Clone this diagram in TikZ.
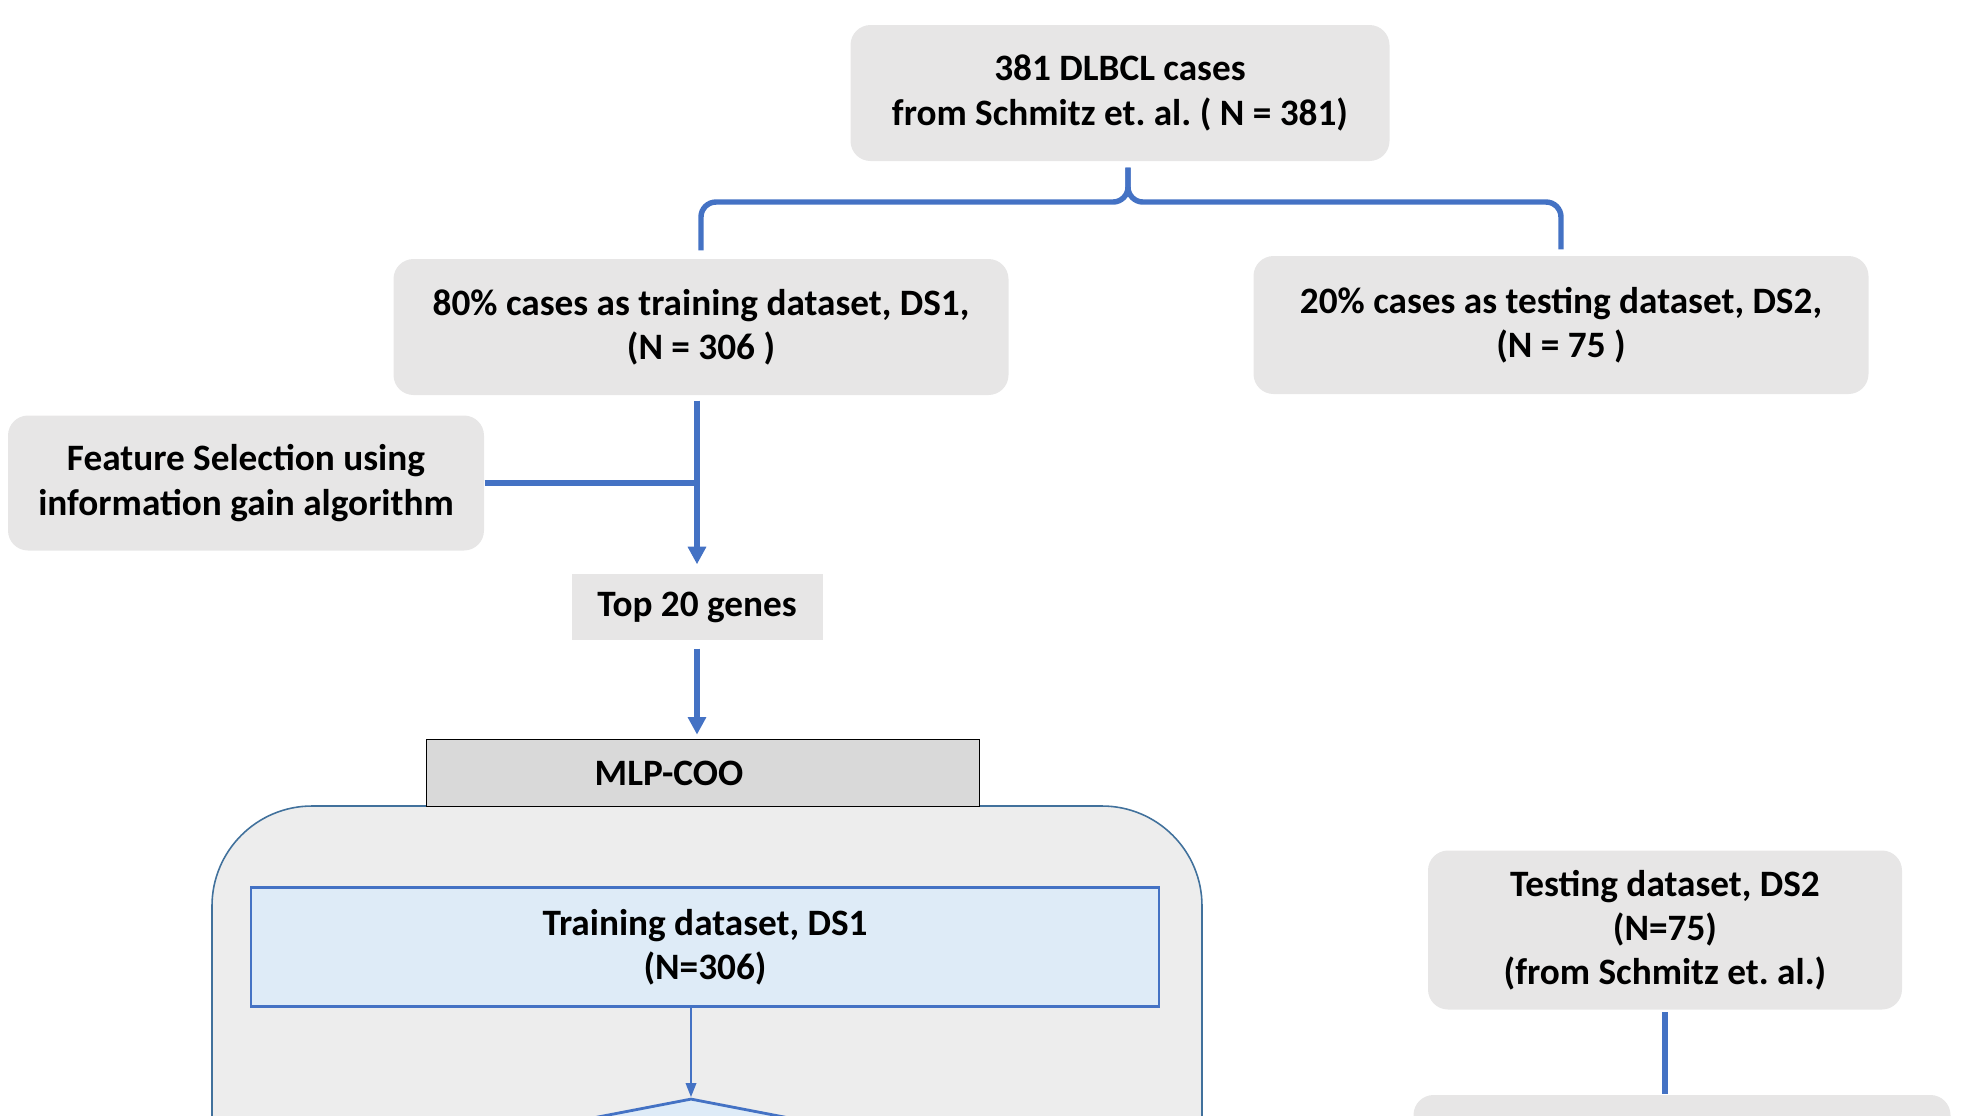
\documentclass[tikz,border=0pt]{standalone}
\usepackage{fontspec}
\setmainfont{Carlito}
\usepackage{xcolor}
\usetikzlibrary{arrows.meta,shapes.geometric}
\definecolor{boxgray}{HTML}{E7E6E6}
\definecolor{linkblue}{HTML}{4472C4}
\definecolor{contfill}{HTML}{EDEDED}
\definecolor{contdraw}{HTML}{41719C}
\definecolor{mlpfill}{HTML}{D9D9D9}
\definecolor{dsfill}{HTML}{DEEBF7}
\frenchspacing

\begin{document}
\begin{tikzpicture}[x=0.1mm,y=-0.1mm,
	txt/.style={inner sep=0pt,align=center,font=\bfseries\fontsize{10.6}{12.6}\selectfont},
	graybox/.style={txt,fill=boxgray,rounded corners=2mm},
	link/.style={draw=linkblue,line width=1.55pt},
	tip/.style={-{Triangle[width=5pt,length=5pt]}}]
	\useasboundingbox (0,0) rectangle (1980,1115);
	\foreach \coordonnees/\nom/\w/\h/\texte in
	{{(1120,93)}/top/53.9mm/13.6mm/{381 DLBCL cases\\from Schmitz et. al. ( N = 381)},
	{(701,327)}/train/61.5mm/13.6mm/{80\% cases as training dataset, DS1,\\(N = 306 )},
	{(1561,325)}/test/61.5mm/13.8mm/{20\% cases as testing dataset, DS2,\\(N = 75 )},
	{(246,483)}/fs/47.6mm/13.5mm/{Feature Selection using\\information gain algorithm},
	{(1665,930)}/dstwo/47.4mm/15.9mm/{Testing dataset, DS2\\(N=75)\\(from Schmitz et. al.)},
	{(1682,1170)}/eval/53.7mm/15mm/{}}
		{\node[graybox,minimum width=\w,minimum height=\h] (\nom) at \coordonnees {\texte};}
	\node[txt,fill=boxgray,minimum width=25.1mm,minimum height=6.6mm] (genes) at (697,607) {Top 20 genes};
	\fill[contfill,draw=contdraw,line width=0.45pt,rounded corners=10mm] (212,1300) -- (212,806) -- (1202,806) -- (1202,1300) -- cycle;
	\node[txt,fill=mlpfill,draw=black,line width=0.5pt,minimum width=55.3mm,minimum height=6.7mm] (mlp) at (703,773) {MLP-COO\hspace*{6.8mm}};
	\node[txt,fill=dsfill,draw=linkblue,line width=0.8pt,minimum width=90.8mm,minimum height=11.9mm] (dsone) at (705,947) {Training dataset, DS1\\(N=306)};
	\node[diamond,fill=dsfill,draw=linkblue,line width=0.8pt,inner sep=0pt,minimum width=80mm,minimum height=15.5mm] (check) at (691,1176) {};
	\coordinate (fork) at (1128,202);
	\draw[link,rounded corners=1.5mm,shorten <=0.6mm,shorten >=0.8mm] (fork |- top.south) -- (fork) -| (train.north);
	\draw[link,rounded corners=1.5mm,shorten <=0.6mm,shorten >=0.6mm] (fork |- top.south) -- (fork) -| (test.north);
	\draw[link,tip,shorten <=0.5mm,shorten >=0.9mm] (train.south -| genes.north) -- (genes.north);
	\draw[link] (fs.east) -- (fs.east -| genes.north);
	\draw[link,tip,shorten <=0.8mm,shorten >=0.4mm] (genes.south) -- (genes.south |- mlp.north);
	\draw[draw=linkblue,line width=0.5pt,-{Triangle[width=3pt,length=4pt]}] (check.north |- dsone.south) -- (check.north);
	\draw[link,shorten <=0.2mm] (dstwo.south) -- (dstwo.south |- eval.north);
\end{tikzpicture}
\end{document}
